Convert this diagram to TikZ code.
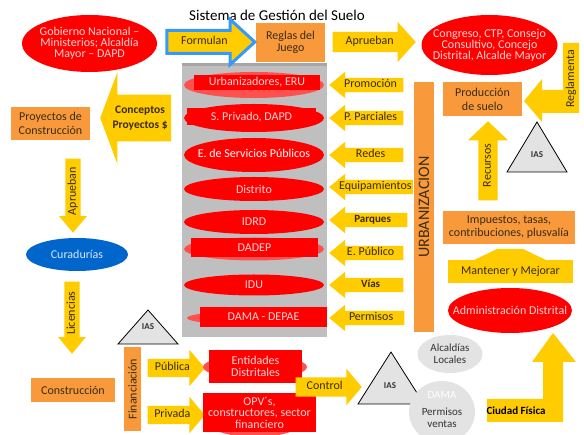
\documentclass[tikz,border=0pt]{standalone}
\usepackage{fontspec}
\setmainfont{Carlito}
\usetikzlibrary{shapes.geometric,shapes.arrows}

\definecolor{ayellow}{HTML}{FFCC00}
\definecolor{aorange}{HTML}{F89A3C}
\definecolor{ared}{HTML}{FF0000}
\definecolor{alightred}{HTML}{FF5050}
\definecolor{apink}{HTML}{FFD6D6}
\definecolor{ablue}{HTML}{0066CC}
\definecolor{alightblue}{HTML}{D8E6F6}
\definecolor{aframe}{HTML}{3399FF}
\definecolor{apanel}{HTML}{BFBFBF}
\definecolor{agraybg}{HTML}{E3E3E3}
\definecolor{atext}{HTML}{3A2C12}
\definecolor{adark}{HTML}{333333}

\begin{document}
\begin{tikzpicture}[x=1pt,y=-1pt,
    every node/.style={font=\fontsize{12}{12}\selectfont, align=center, inner sep=1pt},
    box/.style={rectangle, fill=aorange, text=atext},
    redell/.style={ellipse, fill=ared, text=apink, inner sep=-20pt},
    lightell/.style={ellipse, fill=alightred, inner sep=0pt},
    redbox/.style={rectangle, fill=ared, text=apink, inner sep=0pt},
    grayell/.style={ellipse, fill=agraybg, text=adark, inner sep=-20pt, font=\fontsize{11}{12}\selectfont},
    arrowbase/.style={single arrow, fill=ayellow, text=atext, anchor=tip, inner xsep=1pt},
    yarrow/.style={arrowbase, text height=8pt, text depth=2.5pt, inner ysep=1.75pt,
        single arrow head extend=6pt, single arrow tip angle=80, minimum width=26pt},
    larrow/.style={yarrow, shape border rotate=180},
    boldtext/.style={font=\fontsize{11}{12}\selectfont\bfseries},
    iaslabel/.style={text=adark, font=\fontsize{9}{10}\selectfont\bfseries},
    tri/.style={draw=black, fill=agraybg, line width=0.8pt}
  ]
  \useasboundingbox (0,0) rectangle (584,435);
  \fill[white] (0,0) rectangle (584,435);

  % Title
  \node[font=\fontsize{15}{17}\selectfont] (title) at (277,15) {Sistema de Gestión del Suelo};

  % Central panel
  \node[fill=apanel, minimum width=145pt, minimum height=274pt, inner sep=0pt] (panel) at (254.5,200) {};
  \fill[black!35] (panel.north west) rectangle ([yshift=-3pt]panel.north east);

  % Top row
  \node[redell, minimum width=135pt, minimum height=57pt, font=\fontsize{12}{11}\selectfont] (gobierno) at (89.5,43.5) {Gobierno Nacional –\\Ministerios; Alcaldía\\Mayor – DAPD};
  \node[box, minimum width=69pt, minimum height=39pt] (reglas) at (290.5,42.5) {Reglas del\\Juego};
  \node[yarrow, draw=aframe, line width=3pt, inner ysep=4.75pt, minimum height=88pt, minimum width=42pt,
        single arrow head extend=11pt, single arrow tip angle=85] (formulan) at (257,42) {Formulan};
  \node[yarrow, inner ysep=4.75pt, minimum height=83pt, minimum width=40pt,
        single arrow head extend=10pt, single arrow tip angle=96] (aprueban) at (416,42) {Aprueban};
  \node[redell, minimum width=136pt, minimum height=60pt, font=\fontsize{12}{11}\selectfont] (congreso) at (489.5,45) {Congreso, CTP, Consejo\\Consultivo, Concejo\\Distrital, Alcalde Mayor};

  % Left side
  \node[arrowbase, shape border rotate=180, font=\fontsize{11.5}{15}\selectfont\bfseries, inner ysep=11pt,
        minimum height=71pt, minimum width=92pt, single arrow head extend=22.5pt, single arrow tip angle=139] (conceptos) at (100,118) {Conceptos\\Proyectos \$};
  \node[box, minimum width=79pt, minimum height=33pt, font=\fontsize{12}{14}\selectfont] (proyectos) at (50.5,123.5) {Proyectos de\\Construcción};
  \node[yarrow, rotate=90, shape border rotate=180, minimum height=74pt, minimum width=28pt] (apruebanb) at (73,233) {Aprueban};
  \node[ellipse, fill=ablue, text=alightblue, inner sep=-20pt, minimum width=102pt, minimum height=33pt] (curadurias) at (77,254.5) {Curadurías};
  \node[yarrow, rotate=90, shape border rotate=180, minimum height=72pt, minimum width=28pt] (licencias) at (72,354) {Licencias};
  \node[box, minimum width=84pt, minimum height=24pt] (construccion) at (73,390) {Construcción};

  % Panel items
  \node[lightell, minimum width=140pt, minimum height=26pt] (urbE) at (254,85) {};
  \node[redbox, minimum width=126pt, minimum height=15pt] (urbanizadores) at (257,82.5) {Urbanizadores, ERU};
  \node[redell, minimum width=140pt, minimum height=28pt] (privE) at (254,118) {};
  \node[redbox, minimum width=129pt, minimum height=17pt] (privado) at (251.5,117) {S. Privado, DAPD};
  \node[redell, minimum width=140pt, minimum height=34pt, text=white] (servicios) at (254,155) {\raisebox{4pt}{E. de Servicios Públicos}};
  \node[redell, minimum width=140pt, minimum height=24pt] (distrito) at (254,189) {Distrito};
  \node[redell, minimum width=140pt, minimum height=24pt] (idrd) at (254,222) {IDRD};
  \node[lightell, minimum width=140pt, minimum height=23pt] (dadepE) at (254,249) {};
  \node[redbox, minimum width=127pt, minimum height=19pt] (dadep) at (254.5,247.5) {DADEP};
  \node[redell, minimum width=140pt, minimum height=21pt] (idu) at (254,285) {IDU};
  \node[lightell, minimum width=134pt, minimum height=14pt] (damaE) at (254,318) {};
  \node[redbox, minimum width=127pt, minimum height=20pt] (damadepae) at (263.5,317) {DAMA - DEPAE};

  % Column of arrows
  \node[larrow, minimum height=74pt] (promocion) at (329,85) {Promoción};
  \node[larrow, minimum height=74pt] (parciales) at (329,118) {P. Parciales};
  \node[larrow, minimum height=74pt] (redes) at (329,155) {Redes};
  \node[larrow, minimum height=80pt] (equipamientos) at (329,187) {Equipamientos};
  \node[larrow, minimum height=78pt, boldtext] (parques) at (329,220) {Parques};
  \node[larrow, minimum height=74pt] (publico) at (329,253) {E. Público};
  \node[larrow, minimum height=74pt, boldtext] (vias) at (329,285) {Vías};
  \node[larrow, minimum height=75pt] (permisos) at (329,318) {Permisos};

  \node[box, rotate=90, minimum width=250pt, minimum height=20pt, font=\fontsize{16}{18}\selectfont] (urbanizacion) at (424,207) {URBANIZACION};

  % Bottom
  \draw[tri] (148,310) -- (178,344) -- (118,344) -- cycle;
  \node[iaslabel] (iasa) at (148,327) {IAS};
  \node[box, rotate=90, minimum width=84pt, minimum height=17pt] (financiacion) at (132.5,389) {Financiación};
  \node[yarrow, inner ysep=3.75pt, minimum height=57pt, minimum width=36pt,
        single arrow head extend=9pt, single arrow tip angle=100] (publica) at (205,368) {Pública};
  \node[yarrow, inner ysep=3.75pt, minimum height=57pt, minimum width=36pt,
        single arrow head extend=9pt, single arrow tip angle=100] (privada) at (205,415) {Privada};
  \node[lightell, minimum width=104pt, minimum height=24pt] (entE) at (255,367) {};
  \node[redbox, minimum width=93pt, minimum height=33pt] (entidades) at (255.5,366.5) {Entidades\\Distritales};
  \node[lightell, minimum width=100pt, minimum height=34pt] (opvE) at (255,420) {};
  \node[redbox, minimum width=113pt, minimum height=39pt, font=\fontsize{12}{11.5}\selectfont] (opv) at (259.5,412.5) {OPV´s,\\constructores, sector\\financiero};
  \node[yarrow, inner ysep=4.25pt, minimum height=66pt, minimum width=36pt,
        single arrow head extend=8.5pt, single arrow tip angle=100] (control) at (362,387) {Control};
  \draw[tri] (391,352) -- (424,404) -- (358,404) -- cycle;
  \node[iaslabel] (iasb) at (390,386) {IAS};
  \node[grayell, minimum width=65pt, minimum height=38pt] (alcaldias) at (450,354) {Alcaldías\\Locales};
  \node[grayell, minimum width=66pt, minimum height=62pt] (damaell) at (442,412) {};
  \node[grayell, text=white] (dama) at (442,395) {DAMA};
  \node[grayell, fill=none] (ventas) at (442,418) {Permisos\\ventas};

  % Right side
  \fill[ayellow] (579,43) -- (563,43) -- (563,90) -- (542,90) -- (542,79) -- (524,101)
    -- (542,122) -- (542,113) -- (579,113) -- cycle;
  \node[rotate=90, text=atext] (reglamenta) at (571,79) {Reglamenta};
  \node[box, minimum width=79pt, minimum height=34pt, font=\fontsize{12}{14}\selectfont] (produccion) at (482.5,99) {Producción\\de suelo};
  \node[yarrow, rotate=90, inner ysep=4.25pt, minimum height=79pt, minimum width=40pt,
        single arrow head extend=10.5pt, single arrow tip angle=93] (recursos) at (488,121) {Recursos};
  \draw[tri] (537,122) -- (567,172) -- (507,172) -- cycle;
  \node[iaslabel] (iasc) at (537,155) {IAS};
  \node[box, minimum width=132pt, minimum height=33pt, font=\fontsize{12}{13}\selectfont] (impuestos) at (509,227.5) {Impuestos, tasas,\\contribuciones, plusvalía};
  \fill[ayellow] (472,261) -- (497,249) -- (523,249) -- (548,261) -- cycle;
  \node[fill=ayellow, text=atext, minimum width=125pt, minimum height=23pt] (mantener) at (510.5,271.5) {Mantener y Mejorar};
  \node[redell, minimum width=124pt, minimum height=45pt] (administracion) at (510,310.5) {Administración Distrital};
  \fill[ayellow] (487,399) -- (543,399) -- (543,362) -- (532,362) -- (553,333) -- (576,362)
    -- (563,362) -- (563,422) -- (487,422) -- cycle;
  \node[text=black, boldtext] (ciudad) at (516,411) {Ciudad Física};
\end{tikzpicture}
\end{document}
